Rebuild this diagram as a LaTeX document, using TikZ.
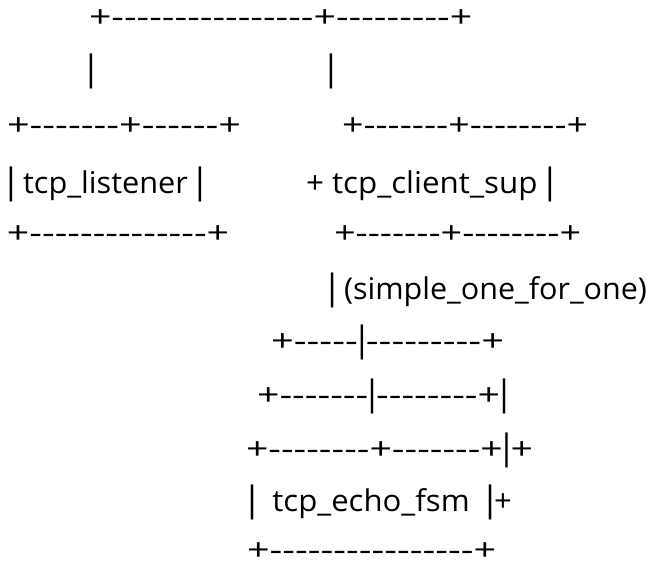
\documentclass[tikz,border=0pt]{standalone}
\usepackage{fontspec}
\usepackage{graphicx}
\newfontfamily\asciifont{Open Sans}[Ligatures=TeXOff]
% a thin, tall vertical bar for the tree lines, with its side bearings trimmed
\newcommand\vb{\makebox[8pt]{\smash{\fontsize{35}{40}\selectfont|}}}
% the same bar, pre-narrowed for rows that get stretched wider
\newcommand\vbn{\makebox[6pt]{\smash{\scalebox{0.75}[1]{\fontsize{35}{40}\selectfont|}}}}
% each row of the ASCII tree is stretched to its own width
\newcommand\fitrow[2]{\resizebox{#1pt}{\height}{#2}}
\tikzset{
  row/.style={anchor=base west, inner sep=0pt, outer sep=0pt,
    font=\asciifont\fontsize{30}{36}\selectfont},
  bar/.style={anchor=base, inner sep=0pt, outer sep=0pt,
    font=\asciifont\fontsize{30}{36}\selectfont},
}
\begin{document}
\begin{tikzpicture}[x=1pt,y=1pt]
\useasboundingbox (0,0) rectangle (649,568);
\fill[white] (0,0) rectangle (649,568);
% top supervisor bar
\node[row] (r1)  at (89,540)  {\fitrow{383}{+----------------+---------+}};
\node[bar] (r2a) at (91,487)  {\vb};
\node[bar] (r2b) at (331,487) {\vb};
% tcp_listener box and tcp_client_sup box
\node[row] (r3a) at (7,432)   {\fitrow{234}{+-------+------+}};
\node[row] (r3b) at (342,432) {\fitrow{246}{+-------+--------+}};
\node[row] (r4a) at (7,374)   {\fitrow{197}{\vb\ tcp\_listener \vb}};
\node[row] (r4b) at (306,374) {\fitrow{248}{+ tcp\_client\_sup \vb}};
\node[row] (r5a) at (7,324)   {\fitrow{222}{+--------------+}};
\node[row] (r5b) at (334,324) {\fitrow{247}{+-------+--------+}};
\node[row] (r6)  at (328,268) {\fitrow{319}{\vb\ (simple\_one\_for\_one)}};
% stacked tcp_echo_fsm workers
\node[row] (r7)  at (271,216) {\fitrow{233}{+-----\vbn---------+}};
\node[row] (r8)  at (257,162) {\fitrow{251}{+-------\vbn--------+\vbn}};
\node[row] (r9)  at (246,108) {\fitrow{287}{+--------+-------+\vbn+}};
\node[row] (r10) at (248,56)  {\fitrow{264}{\vb\ \ tcp\_echo\_fsm\ \ \vb+}};
\node[row] (r11) at (247,7)   {\fitrow{249}{+----------------+}};
\end{tikzpicture}
\end{document}
